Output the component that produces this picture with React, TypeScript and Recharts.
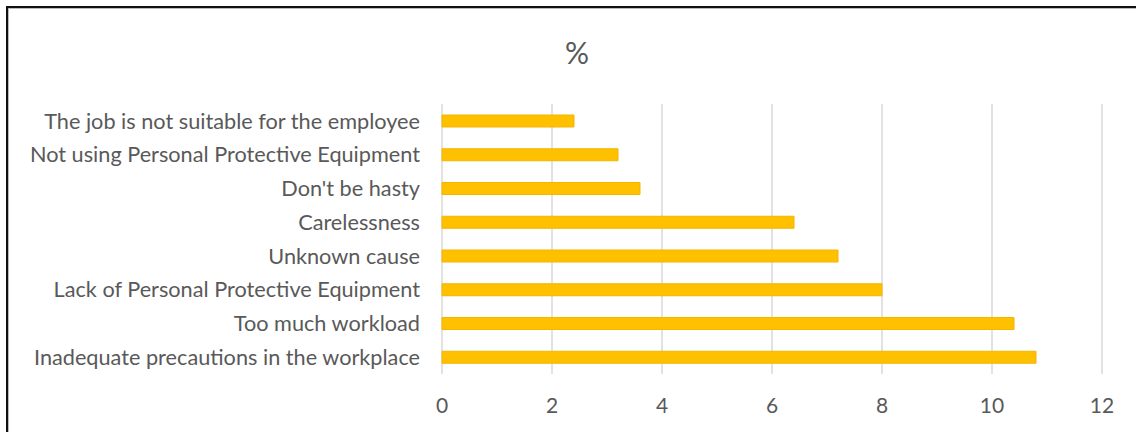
import React from "react";
import { BarChart, Bar, XAxis, YAxis, CartesianGrid } from "recharts";

const categories = [
  "The job is not suitable for the employee",
  "Not using Personal Protective Equipment",
  "Don't be hasty",
  "Carelessness",
  "Unknown cause",
  "Lack of Personal Protective Equipment",
  "Too much workload",
  "Inadequate precautions in the workplace",
];
const percentValues = [2.4, 3.2, 3.6, 6.4, 7.2, 8.0, 10.4, 10.8];
const xTicks = [0, 2, 4, 6, 8, 10, 12];

const data = categories.map((name, i) => ({ name, value: percentValues[i] }));

const FONT = "Lato, 'Open Sans', sans-serif";
const TEXT = "#595959";

export default function App() {
  return (
    <div style={{ position: "absolute", left: 0, top: 0, width: 1136, height: 432, background: "#fff", overflow: "hidden" }}>
      <div
        style={{
          position: "absolute",
          left: 6,
          top: 6,
          right: -10,
          bottom: -10,
          borderLeft: "2px solid #111",
          borderTop: "2px solid #111",
          boxShadow: "inset 1px 1px 0 #bbb",
        }}
      />
      <div
        style={{
          position: "absolute",
          left: 477,
          width: 200,
          top: 30,
          textAlign: "center",
          fontFamily: FONT,
          fontSize: 30,
          color: TEXT,
          lineHeight: "44px",
        }}
      >
        %
      </div>
      <div style={{ position: "absolute", left: 0, top: 0 }}>
        <BarChart
          width={1136}
          height={432}
          data={data}
          layout="vertical"
          margin={{ top: 104, right: 34, bottom: 28, left: 0 }}
          barCategoryGap={0}
        >
          <CartesianGrid horizontal={false} vertical={true} stroke="#d9d9d9" strokeWidth={1.5} />
          <XAxis
            type="number"
            domain={[0, 12]}
            ticks={xTicks}
            axisLine={false}
            tickLine={false}
            tickSize={0}
            tickMargin={24}
            height={30}
            interval={0}
            tick={{ fill: TEXT, fontSize: 21, fontFamily: FONT }}
          />
          <YAxis
            type="category"
            dataKey="name"
            width={442}
            axisLine={false}
            tickLine={false}
            tickSize={0}
            tickMargin={22}
            interval={0}
            tick={{ fill: TEXT, fontSize: 21.7, fontFamily: FONT }}
          />
          <Bar
            dataKey="value"
            fill="#FFC000"
            stroke="#F2B600"
            strokeWidth={1}
            barSize={12}
            isAnimationActive={false}
          />
        </BarChart>
      </div>
    </div>
  );
}
